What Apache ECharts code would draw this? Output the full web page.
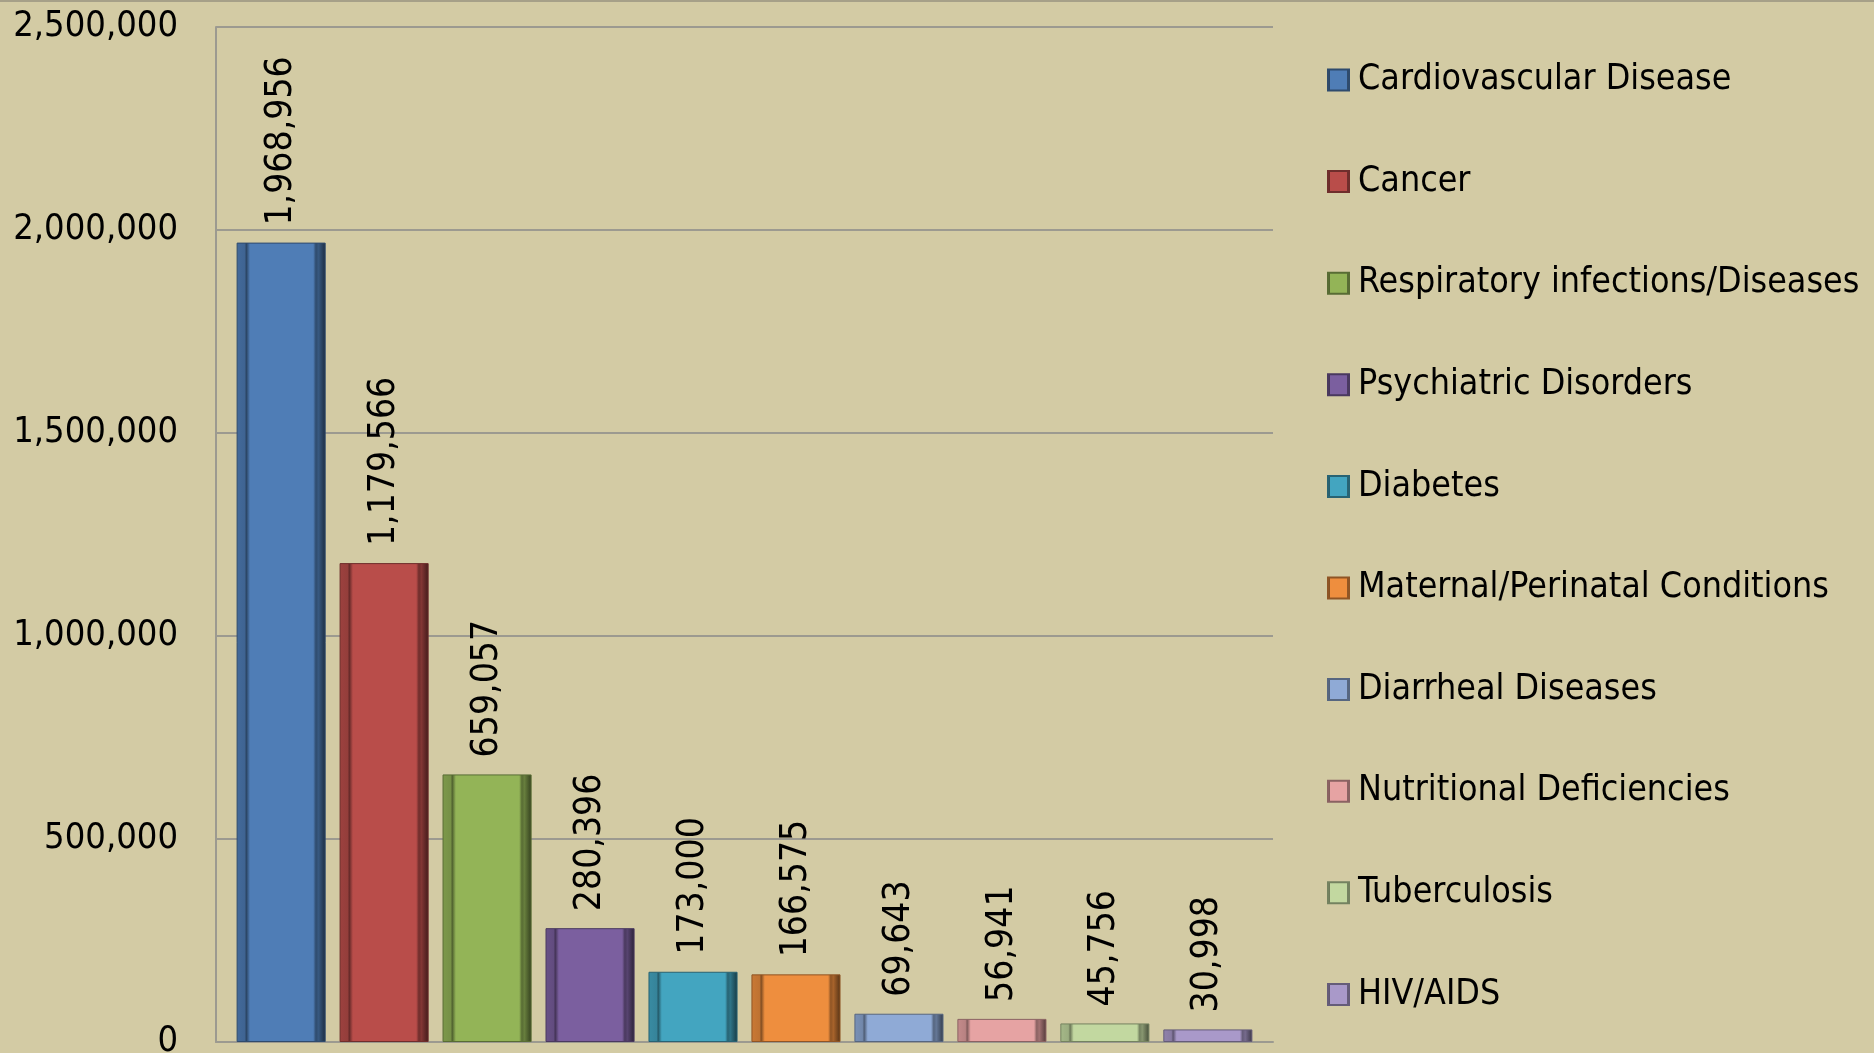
<!DOCTYPE html>
<html>
<head>
<meta charset="utf-8">
<script src="https://cdn.jsdelivr.net/npm/echarts@6/dist/echarts.min.js"></script>
<style>
  html, body { margin: 0; padding: 0; background: #d3cba4; }
  #chart { width: 1874px; height: 1053px; }
</style>
</head>
<body>
<div id="chart"></div>
<script>
/* global echarts */
const categories = [
    'Cardiovascular Disease', 'Cancer', 'Respiratory infections/Diseases',
    'Psychiatric Disorders', 'Diabetes', 'Maternal/Perinatal Conditions',
    'Diarrheal Diseases', 'Nutritional Deficiencies', 'Tuberculosis', 'HIV/AIDS'
];
const deaths = [1968956, 1179566, 659057, 280396, 173000, 166575, 69643, 56941, 45756, 30998];
const colors = ['#4f7db6', '#b94d4a', '#93b457', '#7b5f9f', '#43a5c0', '#ee8e3e',
    '#8faad6', '#e6a3a3', '#c2d8a0', '#a999c9'];
const yTicks = [0, 500000, 1000000, 1500000, 2000000, 2500000];

const FONT = "'DejaVu Sans Condensed', 'DejaVu Sans', sans-serif";

function shade(hex, f) {
    const n = parseInt(hex.slice(1), 16);
    const r = Math.round(((n >> 16) & 255) * f);
    const g = Math.round(((n >> 8) & 255) * f);
    const b = Math.round((n & 255) * f);
    return `rgb(${Math.min(r, 255)},${Math.min(g, 255)},${Math.min(b, 255)})`;
}

function bevel(hex) {
    return {
        type: 'linear', x: 0, y: 0, x2: 1, y2: 0,
        colorStops: [
            { offset: 0, color: shade(hex, 0.85) },
            { offset: 0.09, color: shade(hex, 0.8) },
            { offset: 0.11, color: shade(hex, 0.55) },
            { offset: 0.15, color: hex },
            { offset: 0.86, color: hex },
            { offset: 0.89, color: shade(hex, 0.6) },
            { offset: 0.92, color: shade(hex, 0.7) },
            { offset: 1, color: shade(hex, 0.35) }
        ]
    };
}

const fmt = v => v.toLocaleString('en-US');

const chart = echarts.init(document.getElementById('chart'));

const series = categories.map((name, i) => ({
    name,
    type: 'bar',
    barGap: '15.6%',
    barCategoryGap: '3.9%',
    data: [deaths[i]],
    itemStyle: { color: bevel(colors[i]), borderColor: shade(colors[i], 0.6), borderWidth: 1 },
    label: {
        show: true,
        position: 'top',
        rotate: 90,
        align: 'left',
        verticalAlign: 'middle',
        distance: 17,
        color: '#000',
        fontFamily: FONT,
        fontSize: 37,
        formatter: p => fmt(p.value)
    }
}));

chart.setOption({
    backgroundColor: '#d3cba4',
    animation: false,
    grid: { left: 216, right: 601, top: 27, bottom: 11, outerBoundsMode: 'none', containLabel: false },
    legend: {
        orient: 'vertical',
        left: 1322,
        top: 55,
        itemWidth: 21,
        itemHeight: 21,
        itemGap: 61.6,
        icon: 'rect',
        textStyle: { fontFamily: FONT, fontSize: 35.5, color: '#000', lineHeight: 40, padding: [0, 0, 0, 4] },
        data: categories
    },
    xAxis: {
        type: 'category',
        data: [''],
        axisLine: { lineStyle: { color: '#9c9a90', width: 2 } },
        axisTick: { show: false },
        axisLabel: { show: false }
    },
    yAxis: {
        type: 'value',
        min: yTicks[0],
        max: yTicks[yTicks.length - 1],
        interval: yTicks[1] - yTicks[0],
        axisLine: { show: true, lineStyle: { color: '#9c9a90', width: 2 } },
        axisTick: { show: false },
        splitLine: { lineStyle: { color: '#9c9a90', width: 2 } },
        axisLabel: { fontFamily: FONT, fontSize: 36, color: '#000', margin: 38, formatter: fmt }
    },
    graphic: [{
        type: 'rect',
        shape: { x: 0, y: 0, width: 1874, height: 2 },
        style: { fill: '#a6a088' }
    }],
    series
});
</script>
</body>
</html>
